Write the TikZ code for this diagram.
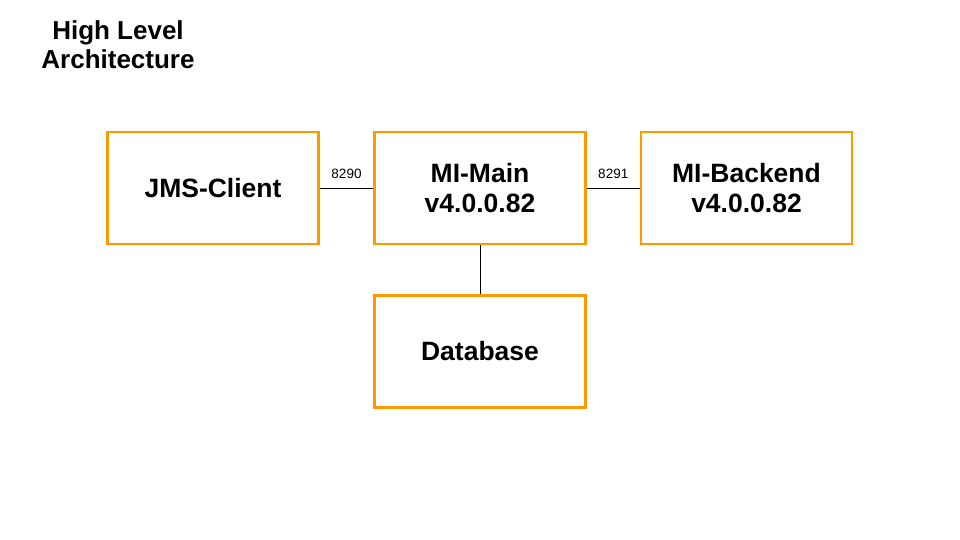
\documentclass[tikz,border=0pt]{standalone}
\usepackage{fontspec}
\setmainfont{Liberation Sans}
\usepackage{xcolor}
\usepackage{tikz}
\definecolor{boxorange}{HTML}{FF9900}

\begin{document}
\begin{tikzpicture}[x=1pt,y=-1pt,
    box/.style={draw=boxorange,line width=2.6pt,minimum width=211pt,minimum height=112pt,
      align=center,font=\fontsize{26.5}{30}\selectfont\bfseries},
    port/.style={font=\fontsize{13.5}{15}\selectfont}]
    \useasboundingbox (0,0) rectangle (960,540);
    \node[align=center,font=\fontsize{26}{29}\selectfont\bfseries] (title) at (118,45) {High Level\\Architecture};
    \node[box] (client) at (213,188) {JMS-Client};
    \node[box] (main) at (480,188) {MI-Main\\v4.0.0.82};
    \node[box] (backend) at (746.5,188) {MI-Backend\\v4.0.0.82};
    \node[box] (db) at (480,351.5) {Database};
    \draw (client) -- node[port,above=6pt] (p8290) {8290} (main);
    \draw (main) -- node[port,above=6pt] (p8291) {8291} (backend);
    \draw (main) -- (db);
  \end{tikzpicture}
\end{document}
